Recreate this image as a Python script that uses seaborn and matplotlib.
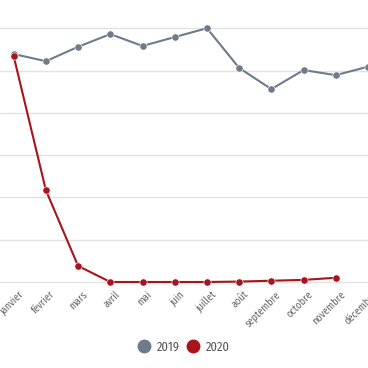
import numpy as np
import pandas as pd
import matplotlib
matplotlib.use("Agg")
import matplotlib.pyplot as plt
from matplotlib.lines import Line2D
import matplotlib.transforms as mtransforms
import seaborn as sns

# Data ----------------------------------------------------------------------------------------------------------
months = ["janvier", "février", "mars", "avril", "mai", "juin", "juillet",
          "août", "septembre", "octobre", "novembre", "décembre"]
values_2019 = [5.39, 5.22, 5.56, 5.86, 5.58, 5.79, 6.00, 5.06, 4.56, 5.01, 4.89, 5.09]
values_2020 = [5.34, 2.17, 0.38, 0.00, 0.00, 0.00, 0.00, 0.01, 0.03, 0.05, 0.10, np.nan]
series = ["2019", "2020"]
colors = {"2019": "#6e7b8b", "2020": "#a8141c"}

df = pd.DataFrame({
    "mois": list(range(len(months))) * 2,
    "valeur": values_2019 + values_2020,
    "annee": [series[0]] * len(months) + [series[1]] * len(months),
})

# Plot ----------------------------------------------------------------------------------------------------------
sns.set_style("white")
plt.rcParams["font.family"] = ["Fira Sans Condensed", "PT Sans Narrow", "Roboto Condensed", "DejaVu Sans"]
plt.rcParams["font.weight"] = "normal"

fig = plt.figure(figsize=(3.68, 3.68), dpi=100)
ax = fig.add_axes([0, 78 / 368, 1, 290 / 368])

sns.lineplot(data=df.dropna(), x="mois", y="valeur", hue="annee", palette=colors,
             marker="o", markersize=5.2, markeredgecolor="white", markeredgewidth=0.4,
             linewidth=1.5, legend=False, ax=ax, clip_on=False, zorder=3)

px = 42.3  # pixels per unit
ax.set_xlim(-14 / 33, (368 - 14) / 33)
ax.set_ylim(-8 / px, 282 / px)
ax.set_yticks(range(0, 7))
ax.yaxis.grid(True, color="#e3e3e3", linewidth=1)
ax.set_yticklabels([])
ax.tick_params(axis="y", length=0)
ax.set_xticks(range(len(months)))
ax.set_xticklabels(months, rotation=45, ha="right", va="top", rotation_mode="anchor",
                   fontsize=7.3, color="#666666", fontweight="normal")
ax.tick_params(axis="x", length=0, pad=0)
offset = mtransforms.ScaledTranslation(4 / 100, 1 / 100, fig.dpi_scale_trans)
for lbl in ax.get_xticklabels():
    lbl.set_transform(lbl.get_transform() + offset)
ax.set_xlabel("")
ax.set_ylabel("")
for s in ax.spines.values():
    s.set_visible(False)

handles = [Line2D([], [], marker="o", linestyle="", markersize=9, color=colors[s]) for s in series]
fig.legend(handles, series, loc="center", bbox_to_anchor=(184 / 368, 1 - 347 / 368), ncol=2,
           frameon=False, labelcolor="#555555", handlelength=1.0, handletextpad=0.54,
           columnspacing=0.54, prop={"size": 9, "weight": "normal"})

fig.savefig("out.png", dpi=100)
